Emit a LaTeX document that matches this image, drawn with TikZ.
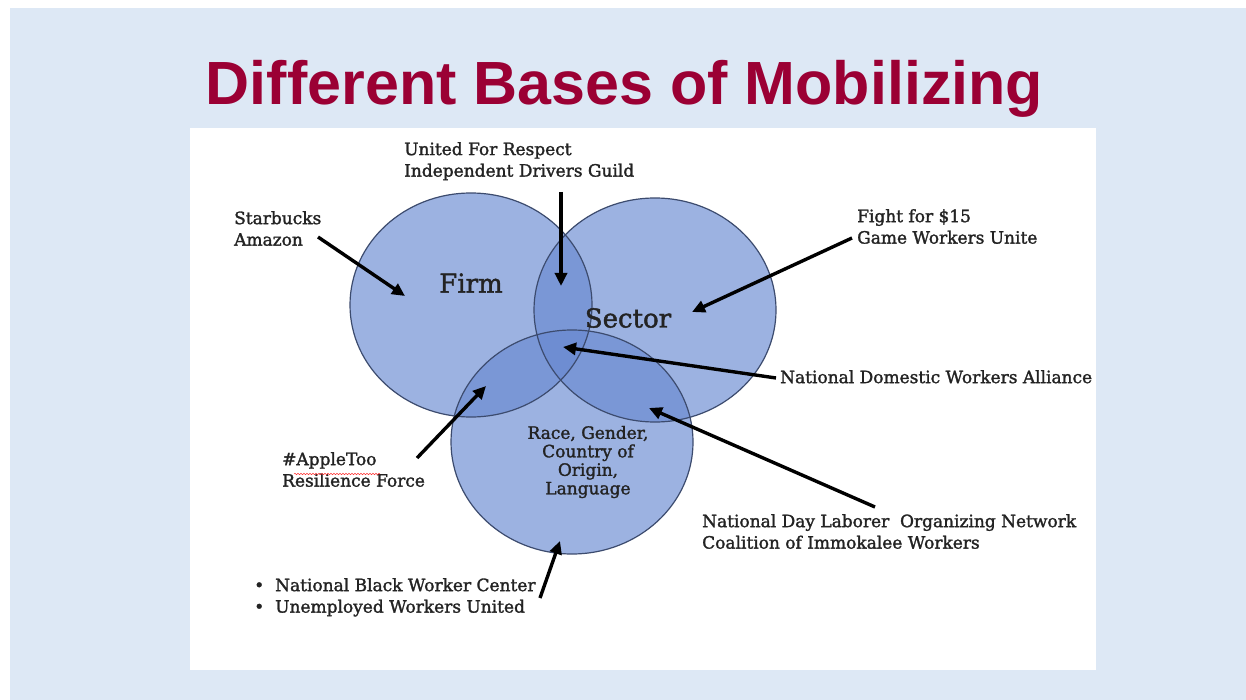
\documentclass[tikz,border=0pt]{standalone}
\usepackage{fontspec}
\setmainfont{DejaVu Serif}[RawFeature={embolden=1.6}]
\newfontfamily\titlefont{Liberation Sans}
\usetikzlibrary{positioning, arrows.meta, decorations.pathmorphing}
\definecolor{slidebg}{RGB}{221,232,245}
\definecolor{titlered}{RGB}{155,0,52}
\definecolor{vennfill}{RGB}{104,137,209}
\definecolor{vennedge}{RGB}{60,75,110}
\definecolor{labelgray}{RGB}{35,35,35}
\tikzset{
  lbl/.style={align=left, anchor=north west, inner sep=0, text=labelgray,
    font=\fontsize{17}{21.5}\selectfont},
  setname/.style={text=labelgray, inner sep=0, font=\fontsize{26}{30}\selectfont},
  pointer/.style={-{Triangle[length=13pt,width=12pt]}, line width=3.4pt, black}
}

\begin{document}
\begin{tikzpicture}[x=1pt, y=-1pt]
        % slide and panel
        \useasboundingbox (0,0) rectangle (1246,700);
        \fill[white] (0,0) rectangle (1246,700);
        \fill[slidebg] (10,8) rectangle (1246,700);
        \fill[white] (190,128) rectangle (1096,670);
        \node[font=\titlefont\bfseries\fontsize{61}{70}\selectfont, text=titlered, anchor=base]
          (title) at (624.5,105) {Different Bases of Mobilizing};
        % sets
        \coordinate (firm-c)   at (471,305);
        \coordinate (sector-c) at (655,310);
        \coordinate (group-c)  at (572,442);
        \foreach \c in {firm-c, sector-c, group-c}
          \fill[vennfill, fill opacity=0.65] (\c) ellipse [x radius=121, y radius=112];
        \foreach \c in {firm-c, sector-c, group-c}
          \draw[vennedge, line width=1.2pt] (\c) ellipse [x radius=121, y radius=112];
        \node[setname] (firm)   at (471,283) {Firm};
        \node[setname] (sector) at (628,318) {Sector};
        \node[setname, align=center, font=\fontsize{17}{18.5}\selectfont]
          (group) at (588,462) {Race, Gender,\\Country of\\Origin,\\Language};
        % labels
        \node[lbl] (ufr)       at (404,142) {United For Respect\\Independent Drivers Guild};
        \node[lbl] (starbucks) at (234,211) {Starbucks\\Amazon};
        \node[lbl] (fight)     at (857,209) {Fight for \$15\\Game Workers Unite};
        \node[lbl] (ndwa)      at (780,370) {National Domestic Workers Alliance};
        \node[lbl] (apple)     at (282,452) {\#AppleToo\\Resilience Force};
        \node[lbl] (ndl)       at (702,514) {National Day Laborer\ \ Organizing Network\\Coalition of Immokalee Workers};
        \node[lbl] (nbwc)      at (254,578) {\makebox[21pt][l]{•}National Black Worker Center\\
                                             \makebox[21pt][l]{•}Unemployed Workers United};
        \draw[red!80, line width=0.5pt, decorate, decoration={snake, amplitude=0.7pt, segment length=3pt}]
          (294,474) -- (380,474);
        % arrow ends
        \coordinate (starbucks-from) at (318,237);
        \coordinate (starbucks-to)   at (405,296);
        \coordinate (ufr-from)       at (561,192);
        \coordinate (ufr-to)         at (561,286);
        \coordinate (fight-from)     at (852,238);
        \coordinate (fight-to)       at (692,312);
        \coordinate (ndwa-from)      at (776,378);
        \coordinate (ndwa-to)        at (563,347);
        \coordinate (apple-from)     at (417,458);
        \coordinate (apple-to)       at (486,386);
        \coordinate (ndl-from)       at (875,507);
        \coordinate (ndl-to)         at (649,408);
        \coordinate (nbwc-from)      at (540,598);
        \coordinate (nbwc-to)        at (560,541);
        % arrows
        \foreach \a in {starbucks, ufr, fight, ndwa, apple, ndl, nbwc}
          \draw[pointer] (\a-from) -- (\a-to);
\end{tikzpicture}
\end{document}
